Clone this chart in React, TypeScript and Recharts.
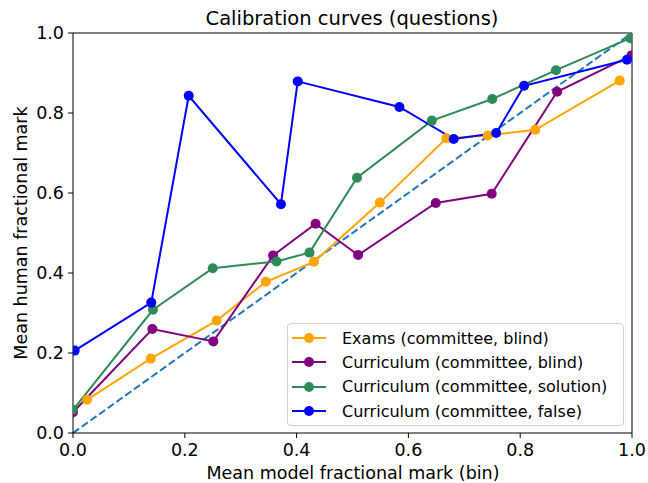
import { LineChart, Line, XAxis, YAxis, Label, ReferenceLine } from "recharts";

const examsX = [0.025, 0.139, 0.257, 0.345, 0.431, 0.549, 0.668, 0.742, 0.827, 0.978];
const examsY = [0.083, 0.186, 0.281, 0.378, 0.428, 0.576, 0.737, 0.744, 0.758, 0.881];

const blindX = [0.0, 0.142, 0.251, 0.358, 0.434, 0.51, 0.649, 0.749, 0.866, 0.999];
const blindY = [0.052, 0.26, 0.229, 0.444, 0.523, 0.445, 0.575, 0.598, 0.853, 0.944];

const solutionX = [0.0, 0.143, 0.25, 0.364, 0.423, 0.508, 0.642, 0.75, 0.864, 0.997];
const solutionY = [0.058, 0.308, 0.412, 0.429, 0.451, 0.638, 0.781, 0.835, 0.907, 0.987];

const falseX = [0.003, 0.14, 0.207, 0.372, 0.402, 0.584, 0.681, 0.757, 0.807, 0.991];
const falseY = [0.206, 0.326, 0.843, 0.572, 0.879, 0.815, 0.735, 0.75, 0.868, 0.933];

const diagonal = [
  { x: 0, y: 0 },
  { x: 1, y: 1 },
];

const ticks = [0, 0.2, 0.4, 0.6, 0.8, 1.0];

const zip = (xs: number[], ys: number[]) => xs.map((x, i) => ({ x, y: ys[i] }));

const series = [
  { name: "Exams (committee, blind)", color: "#FFA500", data: zip(examsX, examsY) },
  { name: "Curriculum (committee, blind)", color: "#800080", data: zip(blindX, blindY) },
  { name: "Curriculum (committee, solution)", color: "#2E8B57", data: zip(solutionX, solutionY) },
  { name: "Curriculum (committee, false)", color: "#0000FF", data: zip(falseX, falseY) },
];

const FONT = "'DejaVu Sans', sans-serif";
const tickStyle = { fontSize: 17.5, fill: "#000", fontFamily: FONT };

function LegendBox() {
  return (
    <div
      style={{
        position: "absolute",
        left: 287,
        top: 323,
        width: 337,
        border: "1px solid #d0d0d0",
        borderRadius: 4,
        background: "rgba(255,255,255,0.85)",
        padding: "2px 0 2px 4px",
        fontFamily: FONT,
        fontSize: 16,
        color: "#000",
        boxSizing: "border-box",
      }}
    >
      {series.map((s) => (
        <div key={s.name} style={{ display: "flex", alignItems: "center", height: 24.3 }}>
          <svg width={46} height={12} style={{ flex: "none" }}>
            <line x1={0} y1={6} x2={34} y2={6} stroke={s.color} strokeWidth={2} />
            <circle cx={17} cy={6} r={5} fill={s.color} />
          </svg>
          <span style={{ marginLeft: 4, whiteSpace: "nowrap" }}>{s.name}</span>
        </div>
      ))}
    </div>
  );
}

export default function App() {
  return (
    <div style={{ position: "absolute", left: 0, top: 0, width: 648, height: 483, background: "#fff" }}>
      <LineChart
        width={648}
        height={483}
        margin={{ top: 33, right: 16, bottom: 0, left: 0 }}
      >
        <XAxis
          dataKey="x"
          type="number"
          domain={[0, 1]}
          ticks={ticks}
          tickFormatter={(v: number) => v.toFixed(1)}
          tick={tickStyle}
          tickSize={5}
          tickMargin={6}
          axisLine={{ stroke: "#000", strokeWidth: 1 }}
          tickLine={{ stroke: "#000" }}
          height={50}
          allowDataOverflow
        >
          <Label
            content={() => (
              <text
                x={353}
                y={479}
                textAnchor="middle"
                style={{ fontSize: 17.5, fontFamily: FONT, fill: "#000" }}
              >
                Mean model fractional mark (bin)
              </text>
            )}
          />
        </XAxis>
        <YAxis
          type="number"
          domain={[0, 1]}
          ticks={ticks}
          tickFormatter={(v: number) => v.toFixed(1)}
          tick={tickStyle}
          tickSize={5}
          tickMargin={4}
          axisLine={{ stroke: "#000", strokeWidth: 1 }}
          tickLine={{ stroke: "#000" }}
          width={73}
          allowDataOverflow
        >
          <Label
            content={() => (
              <text
                x={0}
                y={0}
                transform="translate(27,233) rotate(-90)"
                textAnchor="middle"
                style={{ fontSize: 17.5, fontFamily: FONT, fill: "#000" }}
              >
                Mean human fractional mark
              </text>
            )}
          />
        </YAxis>
        <ReferenceLine x={1} stroke="#000" strokeWidth={1} ifOverflow="visible" />
        <ReferenceLine
          y={1}
          stroke="#000"
          strokeWidth={1}
          ifOverflow="visible"
          label={{
            content: () => (
              <text
                x={352}
                y={25}
                textAnchor="middle"
                style={{ fontSize: 19.5, fontFamily: FONT, fill: "#000" }}
              >
                Calibration curves (questions)
              </text>
            ),
          }}
        />
        <Line
          data={diagonal}
          dataKey="y"
          stroke="#1f77b4"
          strokeWidth={2}
          strokeDasharray="7.5 3.2"
          dot={false}
          activeDot={false}
          isAnimationActive={false}
          legendType="none"
        />
        {series.map((s) => (
          <Line
            key={s.name}
            data={s.data}
            dataKey="y"
            name={s.name}
            stroke={s.color}
            strokeWidth={2}
            dot={{ r: 5, fill: s.color, stroke: s.color, strokeWidth: 0 }}
            activeDot={false}
            isAnimationActive={false}
          />
        ))}
      </LineChart>
      <LegendBox />
    </div>
  );
}
